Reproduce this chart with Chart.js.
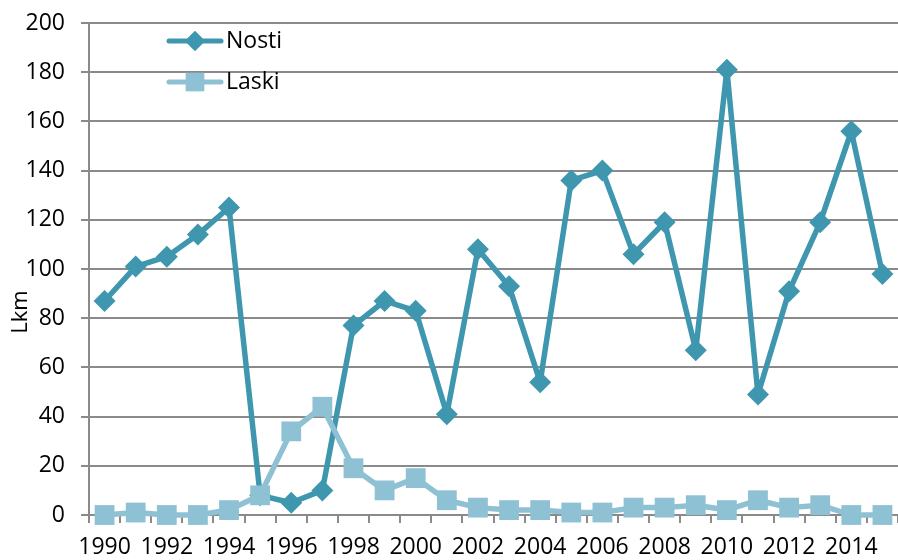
<!DOCTYPE html>
<html>
<head>
<meta charset="utf-8">
<script src="https://cdn.jsdelivr.net/npm/chart.js@4"></script>
<style>
  html, body { margin: 0; padding: 0; background: #fff; }
  #wrap { width: 898px; height: 560px; }
</style>
</head>
<body>
<div id="wrap"><canvas id="chart" width="898" height="560"></canvas></div>
<script>
// Lkm per year
const years = ['1990', '1991', '1992', '1993', '1994', '1995', '1996', '1997', '1998', '1999',
    '2000', '2001', '2002', '2003', '2004', '2005', '2006', '2007', '2008', '2009',
    '2010', '2011', '2012', '2013', '2014', '2015'];
const nosti = [87, 101, 105, 114, 125, 8, 5, 10, 77, 87, 83, 41, 108, 93, 54, 136, 140, 106, 119, 67, 181, 49, 91, 119, 156, 98];
const laski = [0, 1, 0, 0, 2, 8, 34, 44, 19, 10, 15, 6, 3, 2, 2, 1, 1, 3, 3, 4, 2, 6, 3, 4, 0, 0];
const yTicks = [0, 20, 40, 60, 80, 100, 120, 140, 160, 180, 200];

const FONT = '"Open Sans", "Liberation Sans", sans-serif';
const GRID = '#8a8a8a';
const NOSTI_COLOR = '#3f97af';
const LASKI_COLOR = '#8fc1d4';

// legend drawn like the original: line with marker, label to the right
const lineLegend = {
    id: 'lineLegend',
    afterDraw(chart) {
        const ctx = chart.ctx;
        const items = [
            { label: 'Nosti', color: NOSTI_COLOR, style: 'rectRot', radius: 10, y: 41 },
            { label: 'Laski', color: LASKI_COLOR, style: 'rect', radius: 13, y: 82 }
        ];
        ctx.save();
        items.forEach(it => {
            ctx.strokeStyle = it.color;
            ctx.lineWidth = 5;
            ctx.lineCap = 'round';
            ctx.beginPath();
            ctx.moveTo(169, it.y);
            ctx.lineTo(221, it.y);
            ctx.stroke();
            ctx.fillStyle = it.color;
            Chart.helpers.drawPoint(ctx, { pointStyle: it.style, radius: it.radius, borderWidth: 0 }, 195, it.y);
            ctx.fill();
            ctx.fillStyle = '#000';
            ctx.font = '23px ' + FONT;
            ctx.textBaseline = 'middle';
            ctx.textAlign = 'left';
            ctx.fillText(it.label, 226, it.y);
        });
        // axis title sits a bit below the middle in the original
        ctx.translate(21, 312);
        ctx.rotate(-Math.PI / 2);
        ctx.textAlign = 'center';
        ctx.textBaseline = 'middle';
        ctx.font = '22px ' + FONT;
        ctx.fillText('Lkm', 0, 0);
        ctx.restore();
    }
};

new Chart(document.getElementById('chart'), {
    type: 'line',
    data: {
        labels: years,
        datasets: [
            {
                label: 'Nosti',
                data: nosti,
                borderColor: NOSTI_COLOR,
                backgroundColor: NOSTI_COLOR,
                pointBackgroundColor: NOSTI_COLOR,
                pointBorderColor: NOSTI_COLOR,
                borderWidth: 5.5,
                borderJoinStyle: 'round',
                pointStyle: 'rectRot',
                pointRadius: 11,
                pointBorderWidth: 0,
                tension: 0,
                clip: false,
                order: 1
            },
            {
                label: 'Laski',
                data: laski,
                borderColor: LASKI_COLOR,
                backgroundColor: LASKI_COLOR,
                pointBackgroundColor: LASKI_COLOR,
                pointBorderColor: LASKI_COLOR,
                borderWidth: 5.5,
                borderJoinStyle: 'round',
                pointStyle: 'rect',
                pointRadius: 14,
                pointBorderWidth: 0,
                tension: 0,
                clip: false,
                order: 0
            }
        ]
    },
    options: {
        responsive: false,
        animation: false,
        layout: { autoPadding: false, padding: { top: 23, right: 0, left: 0, bottom: 0 } },
        plugins: {
            legend: { display: false },
            title: { display: false },
            tooltip: { enabled: false }
        },
        scales: {
            x: {
                offset: true,
                grid: {
                    offset: true,
                    drawOnChartArea: false,
                    color: GRID,
                    lineWidth: 2,
                    tickLength: 8
                },
                border: { color: GRID, width: 2 },
                ticks: {
                    autoSkip: false,
                    maxRotation: 0,
                    padding: 11,
                    color: '#000',
                    font: { family: FONT, size: 23 },
                    callback: function (val, i) { return i % 2 === 0 ? years[i] : ''; }
                },
                afterFit(scale) {
                    scale.height = 45;
                    scale.paddingLeft = 0;
                    scale.paddingRight = 0;
                }
            },
            y: {
                min: 0,
                max: 200,
                afterBuildTicks(scale) { scale.ticks = yTicks.map(v => ({ value: v })); },
                grid: { color: GRID, lineWidth: 2, tickLength: 8 },
                border: { color: GRID, width: 2 },
                ticks: {
                    padding: 16,
                    color: '#000',
                    font: { family: FONT, size: 23 }
                },
                afterFit(scale) {
                    scale.width = 89;
                    scale.paddingTop = 0;
                    scale.paddingBottom = 0;
                }
            }
        }
    },
    plugins: [lineLegend]
});
</script>
</body>
</html>
